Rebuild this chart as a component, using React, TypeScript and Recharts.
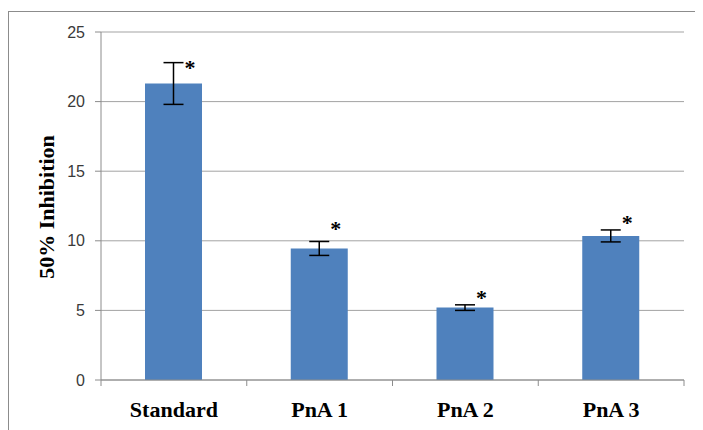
import { ComposedChart, Bar, Line, XAxis, YAxis, CartesianGrid, ErrorBar, Label } from 'recharts'

const categories = ['Standard', 'PnA 1', 'PnA 2', 'PnA 3']
const inhibition = [21.3, 9.45, 5.2, 10.35]
const errors = [1.5, 0.5, 0.2, 0.43]
const starLevels = [22.7, 11.1, 6.2, 11.6]
const yTicks = [0, 5, 10, 15, 20, 25]

const data = categories.map((name, i) => ({
  name,
  value: inhibition[i],
  err: errors[i],
  star: starLevels[i],
}))

const gridColor = '#a3a3a3'
const axisColor = '#8c8c8c'
const serif = { fontFamily: 'Liberation Serif, Times New Roman, serif', fontWeight: 'bold' as const }

function CategoryTick(props: any) {
  const { x, y, payload, index } = props
  const half = payload?.offset ?? 72.9
  return (
    <g>
      <line x1={x - half} y1={y} x2={x - half} y2={y + 6} stroke={axisColor} />
      {index === categories.length - 1 && (
        <line x1={x + half} y1={y} x2={x + half} y2={y + 6} stroke={axisColor} />
      )}
      <text x={x} y={y + 37} textAnchor="middle" fontSize={22} fill="#000" style={serif}>
        {payload.value}
      </text>
    </g>
  )
}

function Star(props: any) {
  const { cx, cy } = props
  if (cx == null || cy == null) return null
  return (
    <text x={cx + 16} y={cy + 11} textAnchor="middle" fontSize={22} fill="#000" style={serif}>
      *
    </text>
  )
}

export default function App() {
  return (
    <div
      style={{
        marginTop: 3,
        width: 694,
        height: 418,
        borderTop: `1px solid ${axisColor}`,
        borderLeft: `1px solid ${axisColor}`,
      }}
    >
      <ComposedChart
        width={694}
        height={418}
        data={data}
        margin={{ top: 20, right: 19, bottom: 10, left: 0 }}
      >
        <CartesianGrid vertical={false} stroke={gridColor} />
        <XAxis
          dataKey="name"
          height={40}
          axisLine={{ stroke: axisColor }}
          tickLine={false}
          tickSize={0}
          tickMargin={0}
          tick={<CategoryTick />}
          interval={0}
        />
        <YAxis
          width={92}
          domain={[0, 25]}
          ticks={yTicks}
          interval={0}
          axisLine={{ stroke: axisColor }}
          tickLine={{ stroke: axisColor }}
          tickSize={6}
          tickMargin={10}
          tick={{ fill: '#3a3a3a', fontSize: 16, fontFamily: 'Liberation Sans, Arial, sans-serif' }}
        >
          <Label
            content={() => (
              <text
                transform="translate(37, 195) rotate(-90)"
                textAnchor="middle"
                dominantBaseline="central"
                fontSize={22}
                fill="#000"
                style={serif}
              >
                50% Inhibition
              </text>
            )}
          />
        </YAxis>
        <Bar dataKey="value" fill="#4f81bd" barSize={57} isAnimationActive={false}>
          <ErrorBar dataKey="err" width={10} stroke="#000" strokeWidth={1.5} />
        </Bar>
        <Line
          dataKey="star"
          stroke="none"
          dot={<Star />}
          activeDot={false}
          isAnimationActive={false}
        />
      </ComposedChart>
    </div>
  )
}
